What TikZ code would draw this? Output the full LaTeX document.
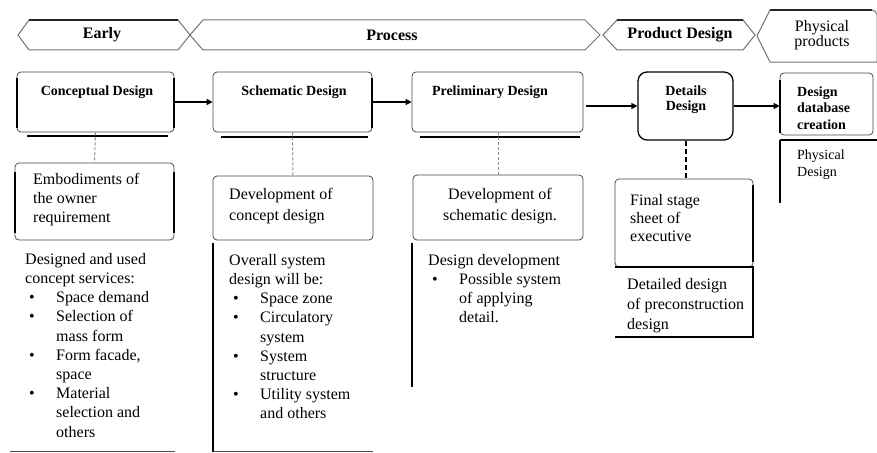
\documentclass[tikz,border=0pt]{standalone}
\usepackage{fontspec}
\setmainfont{Liberation Serif}
\usetikzlibrary{arrows.meta}
\newcommand\bl[1]{\makebox[31pt][l]{\hspace{4pt}\textbullet}#1}
\newcommand\cl[1]{\hspace*{31pt}#1}
\tikzset{
  chev/.style={draw=black!55, line width=1pt, fill=white},
  chevtop/.style={draw=black!85, line width=1.8pt},
  box/.style={draw=black!70, line width=0.8pt, rounded corners=4pt},
  heavy/.style={draw=black, line width=1.8pt},
  conn/.style={draw=black!45, line width=1pt, dashed, dash pattern=on 3pt off 2pt},
  flow/.style={draw=black, line width=1.6pt, -{Triangle[length=6pt,width=6pt]}},
  toplabel/.style={font=\fontsize{16}{19}\selectfont\bfseries, inner sep=0pt},
  head/.style={font=\fontsize{14}{16.5}\selectfont\bfseries, inner sep=0pt, align=center},
  body/.style={font=\fontsize{16}{19.2}\selectfont, inner sep=0pt, align=left, anchor=north west},
}
\begin{document}
\begin{tikzpicture}[x=1pt,y=-1pt]
\useasboundingbox[fill=white] (0,0) rectangle (877,452);

% ---- top phase bar ----
\draw[chev] (18,35) -- (29,20) -- (178,20) -- (190,35) -- (178,50) -- (29,50) -- cycle;
\draw[chevtop] (29,20) -- (178,20);
\draw[chev] (190,35) -- (203,20) -- (585,20) -- (600,35) -- (585,50) -- (203,50) -- cycle;
\draw[chev] (603,35) -- (617,20) -- (743,20) -- (755,35) -- (743,50) -- (617,50) -- cycle;
\draw[chevtop] (617,20) -- (743,20);
\draw[chev] (757,36) -- (770,10) -- (872,10) to[out=0,in=90] (877,15) -- (877,62) -- (770,62) -- cycle;
\draw[chevtop] (770,10) -- (872,10);
\node[toplabel] (early) at (102,35) {Early};
\node[toplabel] (process) at (392,35) {Process};
\node[toplabel] (product) at (680,35) {Product Design};
\node[inner sep=0pt, align=center, font=\fontsize{16}{15}\selectfont] (phys) at (822,35) {Physical\\products};

% ---- row 1 boxes ----
\node[box, minimum width=157pt, minimum height=60pt] (cd) at (95.5,102) {};
\node[box, minimum width=159pt, minimum height=60pt] (sd) at (292.5,102) {};
\node[box, minimum width=171pt, minimum height=60pt] (pd) at (497.5,102) {};
\node[draw=black, line width=1.3pt, rounded corners=9pt, minimum width=95pt, minimum height=68pt] (dd) at (685.5,106) {};
\node[box, minimum width=93pt, minimum height=62pt] (db) at (826.5,104) {};
\draw[heavy] (27,136) -- (168,136);
\draw[heavy] (221,137) -- (368,137);
\draw[heavy] (420,137) -- (580,137);
\draw[heavy] (17,78) -- (17,128);
\draw[heavy] (174,78) -- (174,128);
\draw[heavy] (372,78) -- (372,128);
\draw[heavy] (780,80) -- (780,133);

\node[head] (cdt) at (97,92) {Conceptual Design};
\node[head] (sdt) at (294,92) {Schematic Design};
\node[head] (pdt) at (490,92) {Preliminary Design};
\node[head, font=\fontsize{14}{15}\selectfont\bfseries] (ddt) at (686,99.5) {Details\\Design};
\node[body, font=\fontsize{14}{16.5}\selectfont\bfseries] (dbt) at (797,84.4) {\strut Design\\database\\creation};

% physical design
\draw[heavy] (780,140) -- (877,140);
\draw[heavy] (780,140) -- (780,203);
\node[body, font=\fontsize{14}{17}\selectfont] (pht) at (797,147) {\strut Physical\\Design};

% ---- arrows ----
\draw[flow] (cd.east) -- (sd.west);
\draw[flow] (sd.east) -- (pd.west);
\coordinate (a3s) at (586,106);
\draw[flow] (a3s) -- (dd.west);
\draw[flow] (dd.east) -- (dd.east -| db.west);

% ---- row 2 boxes ----
\node[box, minimum width=159pt, minimum height=77pt] (emb) at (94.5,201.5) {};
\draw[heavy] (15,172) -- (15,233);
\draw[heavy] (174,172) -- (174,233);
\node[body] (embt) at (33,170.6) {\strut Embodiments of\\the owner\\requirement};

\node[box, minimum width=160pt, minimum height=64pt] (dcd) at (293,208) {};
\node[body, font=\fontsize{16}{21}\selectfont] (dcdt) at (229,184.6) {\strut Development of\\concept design};

\node[box, minimum width=170pt, minimum height=65pt] (dsd) at (498,207.5) {};
\node[body, anchor=north, align=center, font=\fontsize{16}{21}\selectfont] (dsdt) at (500,184.6) {\strut Development of\\schematic design.};

\node[box, minimum width=138pt, minimum height=88pt] (fs) at (684,223) {};
\draw[heavy] (753,185) -- (753,262);
\node[body, font=\fontsize{16}{18}\selectfont] (fst) at (630,193) {\strut Final stage\\sheet of\\executive};

\coordinate (dtl) at (615,267);
\coordinate (dtr) at (753,267);
\coordinate (dbr) at (753,337);
\coordinate (dbl) at (615,337);
\draw[heavy] (dtl) -- (dtr) -- (dbr) -- (dbl);
\node[body, font=\fontsize{16}{20}\selectfont] (dtt) at (627,275.6) {\strut Detailed design\\of preconstruction\\design};

% dashed links
\draw[conn] (cd.south) -- (emb.north);
\draw[conn] (sd.south) -- (dcd.north);
\draw[conn] (pd.south -| dsd.north) -- (dsd.north);
\draw[draw=black, line width=2pt, dash pattern=on 5pt off 3pt] (dd.south) -- (fs.north -| dd.south);

% ---- row 3 text blocks ----
\node[body] (c1) at (25,250.6) {\strut Designed and used\\concept services:\\
\bl{Space demand}\\\bl{Selection of}\\\cl{mass form}\\\bl{Form facade,}\\\cl{space}\\\bl{Material}\\\cl{selection and}\\\cl{others}};
\draw[draw=black!70, line width=1pt] (10,451) -- (175,451);

\node[body] (c2) at (229,251.6) {\strut Overall system\\design will be:\\
\bl{Space zone}\\\bl{Circulatory}\\\cl{system}\\\bl{System}\\\cl{structure}\\\bl{Utility system}\\\cl{and others}};
\draw[heavy] (213,243) -- (213,452);
\draw[draw=black!70, line width=1pt] (213,451) -- (373,451);

\node[body] (c3) at (428,251.6) {\strut Design development\\
\bl{Possible system}\\\cl{of applying}\\\cl{detail.}};
\draw[heavy] (412,243) -- (412,387);
\end{tikzpicture}
\end{document}
